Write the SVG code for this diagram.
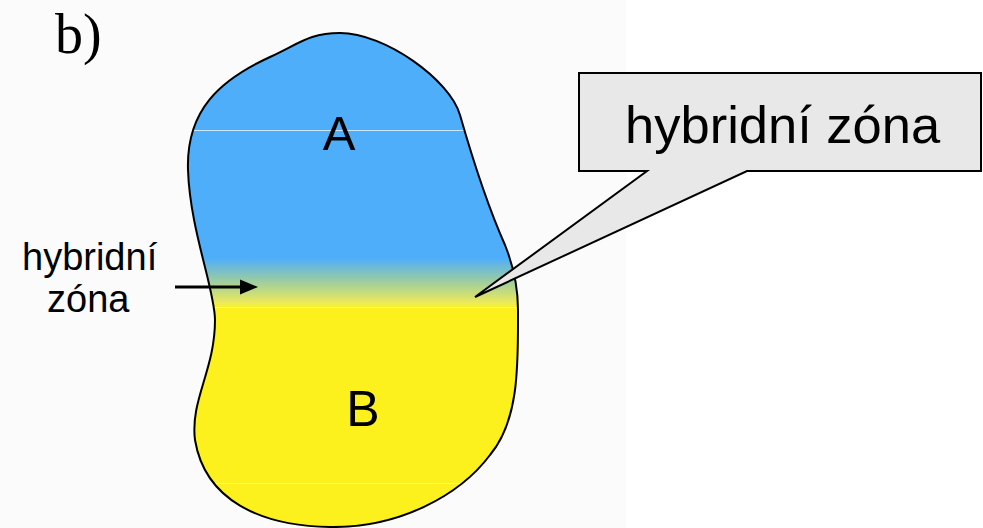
<svg xmlns="http://www.w3.org/2000/svg" width="983" height="528" viewBox="0 0 983 528">
  <style>
    .sans { font-family: "Liberation Sans", Arial, sans-serif; fill: #000; }
    .outline { stroke: #000; stroke-width: 2; stroke-linejoin: miter; }
    .seam { stroke: #ffffff; stroke-width: 1; stroke-opacity: 0.7; }
  </style>
  <defs>
    <linearGradient id="zoneGrad" gradientUnits="userSpaceOnUse" x1="0" y1="258" x2="0" y2="308">
      <stop offset="0" stop-color="#4eaefa"/>
      <stop offset="0.5" stop-color="#a3cf9a"/>
      <stop offset="0.9" stop-color="#eeea5a"/>
      <stop offset="1" stop-color="#fcf11c"/>
    </linearGradient>
    <clipPath id="blobClip">
      <path d="M 340 33 C 385 33, 450 80, 460 115 C 470 150, 485 200, 505 245 C 515 270, 518 290, 518 310 C 518 360, 520 420, 490 455 C 460 495, 400 528, 330 527 C 260 526, 205 500, 195 440 C 190 400, 215 370, 215 320 C 215 290, 190 230, 188 170 C 186 110, 220 80, 270 57 C 300 43, 310 33, 340 33 Z"/>
    </clipPath>
  </defs>

  <rect x="0" y="0" width="983" height="528" fill="#ffffff"/>
  <rect x="0" y="0" width="626" height="528" fill="#fbfbfb"/>

  <text x="55" y="53" font-family="Liberation Serif, 'Times New Roman', serif" font-size="56">b)</text>

  <g id="territory">
    <rect x="180" y="25" width="345" height="510" fill="url(#zoneGrad)" clip-path="url(#blobClip)"/>
    <g clip-path="url(#blobClip)">
      <line class="seam" x1="180" y1="130.5" x2="530" y2="130.5"/>
      <line class="seam" x1="180" y1="307.5" x2="530" y2="307.5"/>
      <line class="seam" x1="180" y1="483.5" x2="530" y2="483.5"/>
    </g>
    <path d="M 340 33 C 385 33, 450 80, 460 115 C 470 150, 485 200, 505 245 C 515 270, 518 290, 518 310 C 518 360, 520 420, 490 455 C 460 495, 400 528, 330 527 C 260 526, 205 500, 195 440 C 190 400, 215 370, 215 320 C 215 290, 190 230, 188 170 C 186 110, 220 80, 270 57 C 300 43, 310 33, 340 33 Z" fill="none" stroke="#000" stroke-width="2"/>
  </g>

  <g id="labelA">
    <text class="sans" x="339" y="150" font-size="49" text-anchor="middle">A</text>
  </g>
  <g id="labelB">
    <text class="sans" x="363" y="426" font-size="50" text-anchor="middle">B</text>
  </g>

  <g id="sideLabel">
    <text class="sans" x="22" y="270" font-size="38">hybridní</text>
    <text class="sans" x="47" y="312" font-size="38">zóna</text>
  </g>

  <g id="callout">
    <path class="outline" d="M 579 73 L 981 73 L 981 171 L 747 171 L 475 297 L 647 171 L 579 171 Z" fill="#e8e8e8"/>
    <text class="sans" x="625" y="143" font-size="52.5">hybridní zóna</text>
  </g>

  <g id="connectors">
    <line x1="175" y1="287" x2="243" y2="287" stroke="#000" stroke-width="3"/>
    <polygon points="240,279.5 258,287 240,294.5" fill="#000"/>
  </g>
</svg>
